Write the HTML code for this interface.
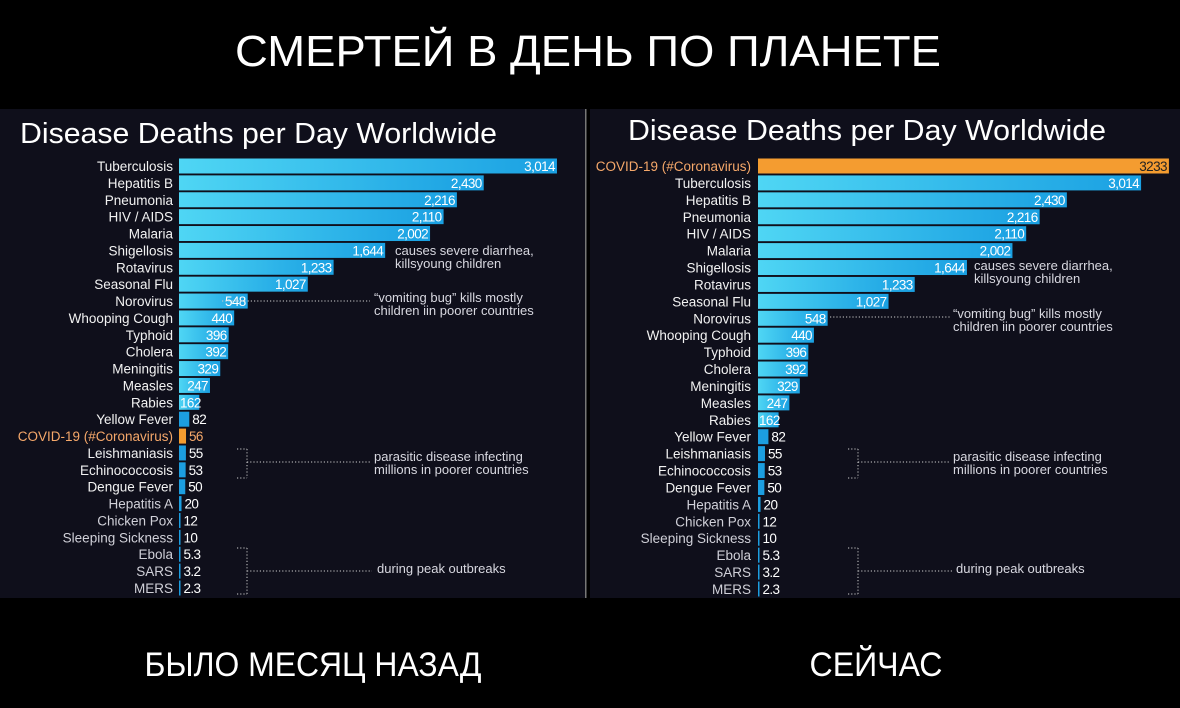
<!DOCTYPE html>
<html><head><meta charset="utf-8">
<style>
html,body{margin:0;padding:0;background:#000;}
body{width:1180px;height:708px;overflow:hidden;}
svg{display:block;}
</style></head>
<body>
<svg id="s" width="1180" height="708" xmlns="http://www.w3.org/2000/svg" font-family="'Liberation Sans', sans-serif">
<defs>
<linearGradient id="bl" x1="0" x2="1" y1="0" y2="0">
<stop offset="0" stop-color="#4fd6f4"/><stop offset="1" stop-color="#1aa0e2"/>
</linearGradient>
</defs>
<rect x="0" y="0" width="1180" height="708" fill="#000"/>
<rect x="0" y="109" width="585" height="489" fill="#0f0f1b"/>
<rect x="590" y="109" width="590" height="489" fill="#0f0f1b"/>
<rect x="585" y="109" width="1.5" height="489" fill="#777"/>
<text x="588" y="66" text-anchor="middle" fill="#fff" font-size="44" textLength="706" lengthAdjust="spacingAndGlyphs">СМЕРТЕЙ В ДЕНЬ ПО ПЛАНЕТЕ</text>
<text x="313" y="676" text-anchor="middle" fill="#fff" font-size="34" textLength="337" lengthAdjust="spacingAndGlyphs">БЫЛО МЕСЯЦ НАЗАД</text>
<text x="876" y="676" text-anchor="middle" fill="#fff" font-size="34" textLength="133" lengthAdjust="spacingAndGlyphs">СЕЙЧАС</text>
<text x="20" y="143" fill="#fff" font-size="29" textLength="477" lengthAdjust="spacingAndGlyphs">Disease Deaths per Day Worldwide</text>
<text x="628" y="140" fill="#fff" font-size="29" textLength="478" lengthAdjust="spacingAndGlyphs">Disease Deaths per Day Worldwide</text>
<g id="g"></g>
</svg>
<script>
var g=document.getElementById('g');
var NS='http://www.w3.org/2000/svg';
function el(t,a,txt){var e=document.createElementNS(NS,t);for(var k in a)e.setAttribute(k,a[k]);if(txt!=null)e.textContent=txt;g.appendChild(e);return e;}
var base=[["Tuberculosis",3014,"3,014"],["Hepatitis B",2430,"2,430"],["Pneumonia",2216,"2,216"],["HIV / AIDS",2110,"2,110"],["Malaria",2002,"2,002"],["Shigellosis",1644,"1,644"],["Rotavirus",1233,"1,233"],["Seasonal Flu",1027,"1,027"],["Norovirus",548,"548"],["Whooping Cough",440,"440"],["Typhoid",396,"396"],["Cholera",392,"392"],["Meningitis",329,"329"],["Measles",247,"247"],["Rabies",162,"162"],["Yellow Fever",82,"82"]];
var tail=[["Leishmaniasis",55,"55"],["Echinococcosis",53,"53"],["Dengue Fever",50,"50"],["Hepatitis A",20,"20"],["Chicken Pox",12,"12"],["Sleeping Sickness",10,"10"],["Ebola",5.3,"5.3"],["SARS",3.2,"3.2"],["MERS",2.3,"2.3"]];
var covL=["COVID-19 (#Coronavirus)",56,"56",1];
var covR=["COVID-19 (#Coronavirus)",3233,"3233",1];
var left=base.concat([covL]).concat(tail);
var right=[covR].concat(base).concat(tail);
function panel(rows,x0,y0,step,scale,labX){
 rows.forEach(function(r,i){
  var cy=y0+i*step, w=Math.max(r[1]*scale,1.5), cov=r[3];
  var dim=(i>=rows.length-6);
  el('rect',{x:x0,y:cy-7.5,width:w,height:15,fill:cov?'#f49c30':(r[1]<100?'#1c9ee0':'url(#bl)')});
  el('text',{x:labX,y:cy+5,'text-anchor':'end','font-size':13.5,fill:cov?'#f6a86a':(dim?'#d0d0d8':'#f2f2f2')},r[0]);
  var inside=w>18, small=w<26;
  var tx, anc;
  if(!inside){tx=x0+w+3;anc='start';} else if(small){tx=x0+1;anc='start';} else {tx=x0+w-2;anc='end';}
  el('text',{x:tx,y:cy+5,'text-anchor':anc,'font-size':13.5,
   'font-family':"'Liberation Sans Narrow','Liberation Sans',sans-serif",'letter-spacing':'-0.6',
   fill:cov&&!inside?'#f6a86a':(cov?'#222':'#fff')},r[2]);
 });
}
panel(left,179,166,16.88,0.1254,173);
panel(right,758,166,16.92,0.1271,751);
function t(x,y,s){el('text',{x:x,y:y,'font-size':13,fill:'#d8d8e0'},s);}
function dot(x1,y1,x2,y2){el('line',{x1:x1,y1:y1,x2:x2,y2:y2,stroke:'#ccc','stroke-width':1,'stroke-dasharray':'1.2 2'});}
function bracket(x,y1,y2,ym,xe){dot(x-10,y1,x,y1);dot(x,y1,x,y2);dot(x-10,y2,x,y2);dot(x,ym,xe,ym);}
t(395,255,"causes severe diarrhea,");t(395,268,"killsyoung children");
dot(222,301,370,301);t(374,302,"“vomiting bug” kills mostly");t(374,315,"children iin poorer countries");
bracket(247,449,478,462,370);t(374,461,"parasitic disease infecting");t(374,474,"millions in poorer countries");
bracket(247,548,594,571,372);t(377,573,"during peak outbreaks");
t(974,270,"causes severe diarrhea,");t(974,283,"killsyoung children");
dot(830,317,950,317);t(953,318,"“vomiting bug” kills mostly");t(953,331,"children iin poorer countries");
bracket(858,449,478,462,950);t(953,461,"parasitic disease infecting");t(953,474,"millions in poorer countries");
bracket(858,548,594,571,952);t(956,573,"during peak outbreaks");
</script>
</body></html>
